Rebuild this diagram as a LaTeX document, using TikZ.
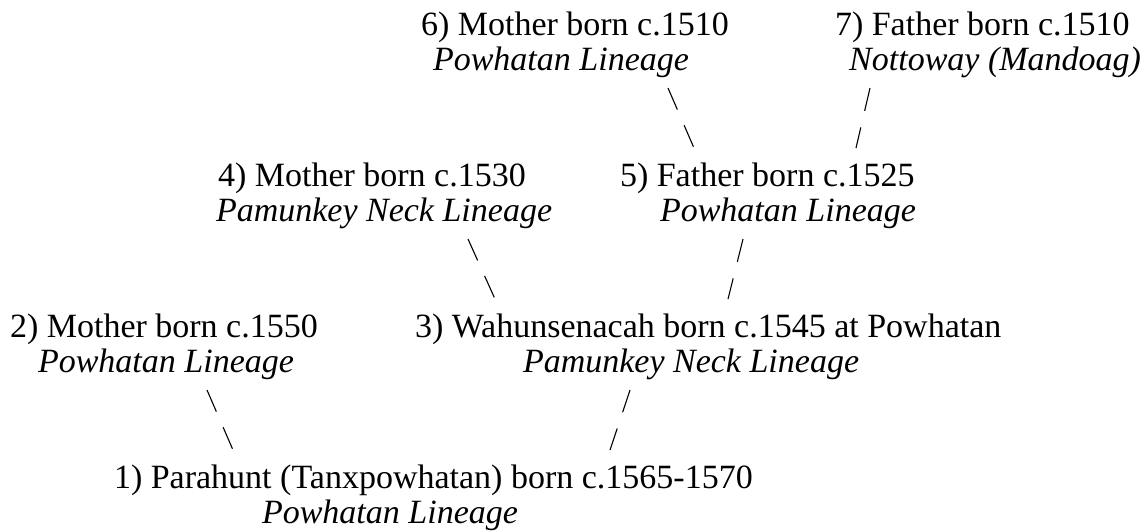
\documentclass[tikz,border=0pt]{standalone}
\usepackage{fontspec}
\setmainfont{Liberation Serif}
\begin{document}
\begin{tikzpicture}[x=1pt,y=-1pt,
  person/.style={anchor=base west,inner sep=0pt,outer sep=0pt,
    font=\fontsize{34}{40}\selectfont},
  lineage/.style={person,font=\fontsize{34}{40}\selectfont\itshape},
  link/.style={line width=1.1pt,dash pattern=on 23.5pt off 17pt}]
\useasboundingbox (0,0) rectangle (1143,531);

% generation of the great-grandparents
\node[person]  (p6)  at (421,35)  {6) Mother born c.1510};
\node[lineage] (p6l) at (433,70)  {Powhatan Lineage};
\node[person]  (p7)  at (835,35)  {7) Father born c.1510};
\node[lineage,anchor=base east] (p7l) at (1141,70) {Nottoway (Mandoag)};

% grandparents
\node[person]  (p4)  at (218,186) {4) Mother born c.1530};
\node[lineage] (p4l) at (216,221) {Pamunkey Neck Lineage};
\node[person]  (p5)  at (620,186) {5) Father born c.1525};
\node[lineage] (p5l) at (660,221) {Powhatan Lineage};

% parents
\node[person]  (p2)  at (10,337)  {2) Mother born c.1550};
\node[lineage] (p2l) at (38,372)  {Powhatan Lineage};
\node[person]  (p3)  at (415,337) {3) Wahunsenacah born c.1545 at Powhatan};
\node[lineage] (p3l) at (523,372) {Pamunkey Neck Lineage};

% the subject
\node[person]  (p1)  at (114,488) {1) Parahunt (Tanxpowhatan) born c.1565-1570};
\node[lineage] (p1l) at (262,523) {Powhatan Lineage};

% ends of the slash connectors
\coordinate (a6) at (668,88);  \coordinate (b6) at (694,148);
\coordinate (a7) at (870,88);  \coordinate (b7) at (856,148);
\coordinate (a4) at (468,239); \coordinate (b4) at (495,299);
\coordinate (a5) at (743,239); \coordinate (b5) at (728,299);
\coordinate (a2) at (207,390); \coordinate (b2) at (233,450);
\coordinate (a3) at (630,390); \coordinate (b3) at (610,450);

\draw[link] (a6) -- (b6);
\draw[link] (a7) -- (b7);
\draw[link] (a4) -- (b4);
\draw[link] (a5) -- (b5);
\draw[link] (a2) -- (b2);
\draw[link] (a3) -- (b3);
\end{tikzpicture}
\end{document}
